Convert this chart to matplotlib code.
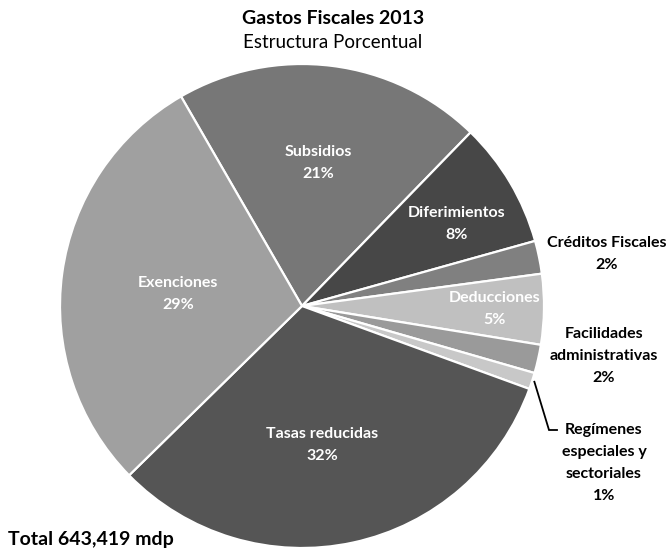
import numpy as np
import matplotlib
matplotlib.use("Agg")
import matplotlib.pyplot as plt

plt.rcParams['font.family'] = ['Lato', 'DejaVu Sans']

# datos (porcentaje del total), en orden horario a partir de Subsidios
categorias = ['Subsidios', 'Diferimientos', 'Créditos Fiscales', 'Deducciones',
              'Facilidades\nadministrativas', 'Regímenes\nespeciales y\nsectoriales',
              'Tasas reducidas', 'Exenciones']
valores = [20.6, 8.4, 2.2, 4.7, 1.9, 1.1, 32.1, 29.0]
colores = ['#777777', '#474747', '#808080', '#c0c0c0', '#9a9a9a', '#c8c8c8',
           '#555555', '#a0a0a0']
total_txt = 'Total 643,419 mdp'

W, H = 668, 552
cx, cy, R = 302, 306, 242   # centro y radio del pastel en pixeles

fig = plt.figure(figsize=(W / 100, H / 100), dpi=100)
ax = fig.add_axes([0, 0, 1, 1])

wedges, _ = ax.pie(valores, colors=colores, startangle=120, counterclock=False,
                   radius=1.0, wedgeprops=dict(edgecolor='white', linewidth=1.6))

# pie() fija sus propios limites, se reemplazan despues
ax.set_xlim(-cx / R, (W - cx) / R)
ax.set_ylim(-(H - cy) / R, cy / R)
ax.set_aspect('equal')
ax.axis('off')

def px(x, y):
    # pixel de la imagen -> coordenadas del eje
    return (x - cx) / R, (cy - y) / R

pct = np.array(valores) / sum(valores) * 100
fs = 11.5
ls = 1.75

# posicion (pixeles) de cada etiqueta
pos_etiq = {0: (318, 163), 1: (457, 224), 2: (607, 254), 3: (495, 309),
            4: (604, 356), 5: (604, 463), 6: (322, 445), 7: (178, 294)}
for i, (x, y) in pos_etiq.items():
    dentro = i not in (2, 4, 5)
    ax.text(*px(x, y), f'{categorias[i]}\n{pct[i]:.0f}%', ha='center', va='center',
            color='white' if dentro else 'black', fontsize=fs,
            fontweight='bold', linespacing=ls)

# linea guia de Regímenes
w = wedges[5]
ang = np.deg2rad((w.theta1 + w.theta2) / 2)
x0, y0 = 1.01 * np.cos(ang), 1.01 * np.sin(ang)
x1, y1 = px(549, 430)
x2, y2 = px(557, 430)
ax.plot([x0, x1, x2], [y0, y1, y2], color='black', lw=1.3, solid_joinstyle='miter')

fig.text(333 / W, 1 - 18 / H, 'Gastos Fiscales 2013', ha='center', va='center',
         fontsize=14, fontweight='bold')
fig.text(333 / W, 1 - 42 / H, 'Estructura Porcentual', ha='center', va='center',
         fontsize=13.5)
fig.text(8 / W, 1 - 540 / H, total_txt, ha='left', va='center', fontsize=14,
         fontweight='bold')

fig.savefig('out.png', dpi=100)
